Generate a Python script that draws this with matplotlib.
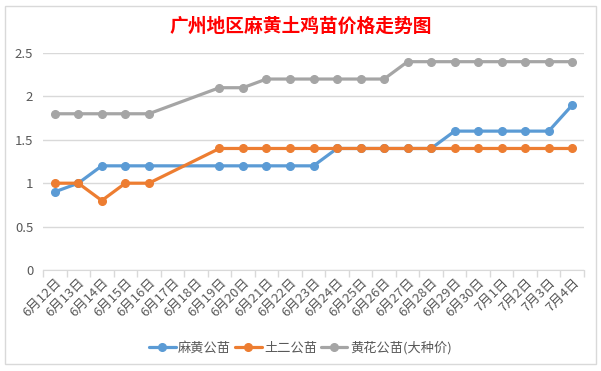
import numpy as np
import matplotlib.pyplot as plt
from matplotlib.patches import Rectangle

plt.rcParams['font.family'] = ['Noto Sans CJK SC', 'DejaVu Sans']

# 日期 (x 轴)
dates = ['6月12日', '6月13日', '6月14日', '6月15日', '6月16日', '6月17日', '6月18日',
         '6月19日', '6月20日', '6月21日', '6月22日', '6月23日', '6月24日', '6月25日',
         '6月26日', '6月27日', '6月28日', '6月29日', '6月30日', '7月1日', '7月2日',
         '7月3日', '7月4日']

# 价格, None = 无数据 (17日、18日)
mahuang = [0.9, 1.0, 1.2, 1.2, 1.2, None, None, 1.2, 1.2, 1.2, 1.2, 1.2, 1.4, 1.4,
           1.4, 1.4, 1.4, 1.6, 1.6, 1.6, 1.6, 1.6, 1.9]
tuer = [1.0, 1.0, 0.8, 1.0, 1.0, None, None, 1.4, 1.4, 1.4, 1.4, 1.4, 1.4, 1.4,
        1.4, 1.4, 1.4, 1.4, 1.4, 1.4, 1.4, 1.4, 1.4]
huanghua = [1.8, 1.8, 1.8, 1.8, 1.8, None, None, 2.1, 2.1, 2.2, 2.2, 2.2, 2.2, 2.2,
            2.2, 2.4, 2.4, 2.4, 2.4, 2.4, 2.4, 2.4, 2.4]

series = [('麻黄公苗', mahuang, '#5B9BD5'),
          ('土二公苗', tuer, '#ED7D31'),
          ('黄花公苗(大种价)', huanghua, '#A5A5A5')]

fig = plt.figure(figsize=(6.01, 3.71), dpi=100)
# 图表外框
fig.patches.append(Rectangle((0.008, 0.02), 0.984, 0.965, transform=fig.transFigure,
                             fill=False, edgecolor='#d9d9d9', linewidth=1))

ax = fig.add_axes([43 / 601, 1 - 270 / 371, 541 / 601, 217 / 371])

for name, vals, col in series:
    xs = [i for i, v in enumerate(vals) if v is not None]
    ys = [v for v in vals if v is not None]
    ax.plot(xs, ys, color=col, linewidth=2.3, marker='o', markersize=5.5,
            label=name, solid_capstyle='round', zorder=3)

ax.set_xlim(-0.5, len(dates) - 0.5)
ax.set_ylim(0, 2.5)
ax.set_yticks(np.arange(0, 2.51, 0.5))
ax.set_yticklabels(['0', '0.5', '1', '1.5', '2', '2.5'])
ax.yaxis.grid(True, color='#d9d9d9', linewidth=1)
ax.set_axisbelow(True)

ax.set_xticks(range(len(dates)))
ax.set_xticklabels(dates, rotation=45, ha='right', rotation_mode='anchor')
ax.set_xticks(np.arange(-0.5, len(dates), 1), minor=True)
ax.tick_params(axis='x', which='major', length=0, pad=4, labelsize=9.5, labelcolor='#595959')
ax.tick_params(axis='x', which='minor', length=5, color='#d9d9d9', width=1)
ax.tick_params(axis='y', length=0, pad=7, labelsize=9.5, labelcolor='#595959')

for s in ['top', 'right', 'left']:
    ax.spines[s].set_visible(False)
ax.spines['bottom'].set_color('#d9d9d9')

fig.text(0.5, 1 - 26 / 371, '广州地区麻黄土鸡苗价格走势图', color='red', fontsize=13.5,
         fontweight='bold', ha='center', va='center')

fig.legend(loc='center', bbox_to_anchor=(0.5, 1 - 348 / 371), ncol=3, frameon=False,
           fontsize=9.5, labelcolor='#595959', handlelength=2.0, columnspacing=0.3,
           handletextpad=0.2)

fig.savefig('out.png', dpi=100)
